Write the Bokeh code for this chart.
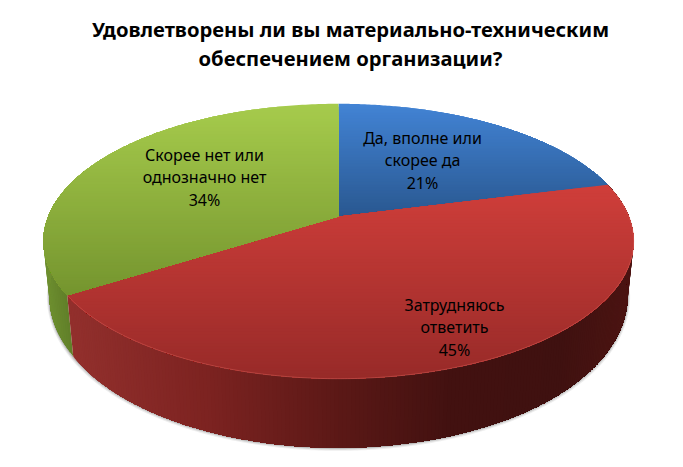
import numpy as np
from bokeh.plotting import figure
from bokeh.models import Range1d
from bokeh.core.properties import value
from bokeh.embed import file_html
from bokeh.resources import INLINE

title_lines = ["Удовлетворены ли вы материально-техническим", "обеспечением организации?"]
categories = ["Да, вполне или\nскорее да", "Затрудняюсь\nответить", "Скорее нет или\nоднозначно нет"]
shares = [21, 45, 34]
top_colors = [("#4283d4", "#29578f"), ("#cf3e3a", "#972a28"), ("#a6cb4c", "#74942e")]
side_stops = {
    1: [(62, "#93302d"), (200, "#7d2321"), (340, "#5a1816"), (450, "#421110"), (560, "#3f1110"), (634, "#4c1412")],
    2: [(42, "#6f9030"), (70, "#5f7e28")],
}
label_pos = [(422, 160), (454, 327), (204, 177)]

CX, CY, A, B, K = 338.0, 216.0, 290.3, 133.0, 0.18


def project(theta, scale=1.0):
    X, Y = np.sin(theta), np.cos(theta)
    w = 1 + K * Y
    return CX + scale * A * X / w, CY - B * Y / w


def depth(theta):
    return 52 + 17 * np.maximum(-np.cos(theta), 0)


def hex2rgb(h):
    return np.array([int(h[i:i + 2], 16) for i in (1, 3, 5)], float)


def mix(c1, c2, t):
    c = hex2rgb(c1) * (1 - t) + hex2rgb(c2) * t
    return "#%02x%02x%02x" % tuple(int(round(v)) for v in c)


def ramp(stops, x):
    for (x0, c0), (x1, c1) in zip(stops, stops[1:]):
        if x <= x1:
            return mix(c0, c1, max(0, (x - x0) / (x1 - x0)))
    return stops[-1][1]


def clip_below(poly, y0):
    out = []
    for i in range(len(poly)):
        a, b = poly[i], poly[(i + 1) % len(poly)]
        if a[1] >= y0:
            out.append(a)
        if (a[1] >= y0) != (b[1] >= y0):
            t = (y0 - a[1]) / (b[1] - a[1])
            out.append((a[0] + t * (b[0] - a[0]), y0))
    return out


edges = np.cumsum([0] + shares) / 100 * 2 * np.pi

p = figure(width=675, height=459, output_backend="svg", toolbar_location=None,
           x_range=Range1d(0, 675), y_range=Range1d(459, 0), min_border=0,
           outline_line_color=None)
p.axis.visible = False
p.grid.visible = False


def wall_bottom(theta):
    x, y = project(theta, 1 - 0.022 * np.minimum(1, depth(theta) / 60))
    return x, y + depth(theta)


# soft shadow under the side wall
ts = np.linspace(np.pi * 0.42, np.pi * 1.62, 400)
sx, sy = wall_bottom(ts)
for off, alpha, lw in [(1.6, 0.10, 3.0), (1.0, 0.16, 2.0), (0.5, 0.28, 1.0)]:
    p.line(sx + off * np.sin(ts) * 0.6, sy + off, line_color="#555555", line_alpha=alpha, line_width=lw)

# side walls: one shape per step, each painted over the previous one, so no seam shows
xs_l, ys_l, cs = [], [], []
for idx, t0, t1, n in [(2, edges[2], np.pi * 1.62, 40), (1, edges[2], edges[1], 240)]:
    tt = np.linspace(t0, t1, n)
    for j in range(n - 1):
        rest = tt[j:]
        tx, ty = project(rest)
        bx, by = wall_bottom(rest)
        xs_l.append(list(tx) + list(bx[::-1]))
        ys_l.append(list(ty) + list(by[::-1]))
        cs.append(ramp(side_stops[idx], float(tx[0])))
p.patches(xs_l, ys_l, fill_color=cs, line_color=None)

# top face: vertical shading, painted band over band from the top down
xs_t, ys_t, ct = [], [], []
for i in range(3):
    tt = np.linspace(edges[i], edges[i + 1], 160)
    ex, ey = project(tt)
    poly = [(CX, CY)] + list(zip(ex, ey))
    ymin, ymax = min(q[1] for q in poly), max(q[1] for q in poly)
    for y0 in np.arange(ymin, ymax, 3.0):
        c = clip_below(poly, y0)
        if len(c) >= 3:
            xs_t.append([q[0] for q in c])
            ys_t.append([q[1] for q in c])
            ct.append(mix(*top_colors[i], (y0 - ymin) / (ymax - ymin)))
p.patches(xs_t, ys_t, fill_color=ct, line_color=None)

# pale rim highlight on the front edge
tt = np.linspace(edges[1], edges[2], 300)
ex, ey = project(tt)
p.line(ex, ey, line_color="#d8605a", line_width=0.8, line_alpha=0.6)

for (tx, ty), cat, s in zip(label_pos, categories, shares):
    p.text([tx], [ty], text=[f"{cat}\n{s}%"], text_align="center", text_baseline="middle",
           text_font=value("Noto Sans"), text_font_size="16px", text_color="#000000", text_line_height=1.02)

for line, y in zip(title_lines, [28, 57]):
    p.text([350], [y], text=[line], text_align="center", text_baseline="middle",
           text_font=value("Noto Sans"), text_font_style="bold", text_font_size="20.2px", text_color="#000000")

open("out.html", "w").write(file_html(p, INLINE))
